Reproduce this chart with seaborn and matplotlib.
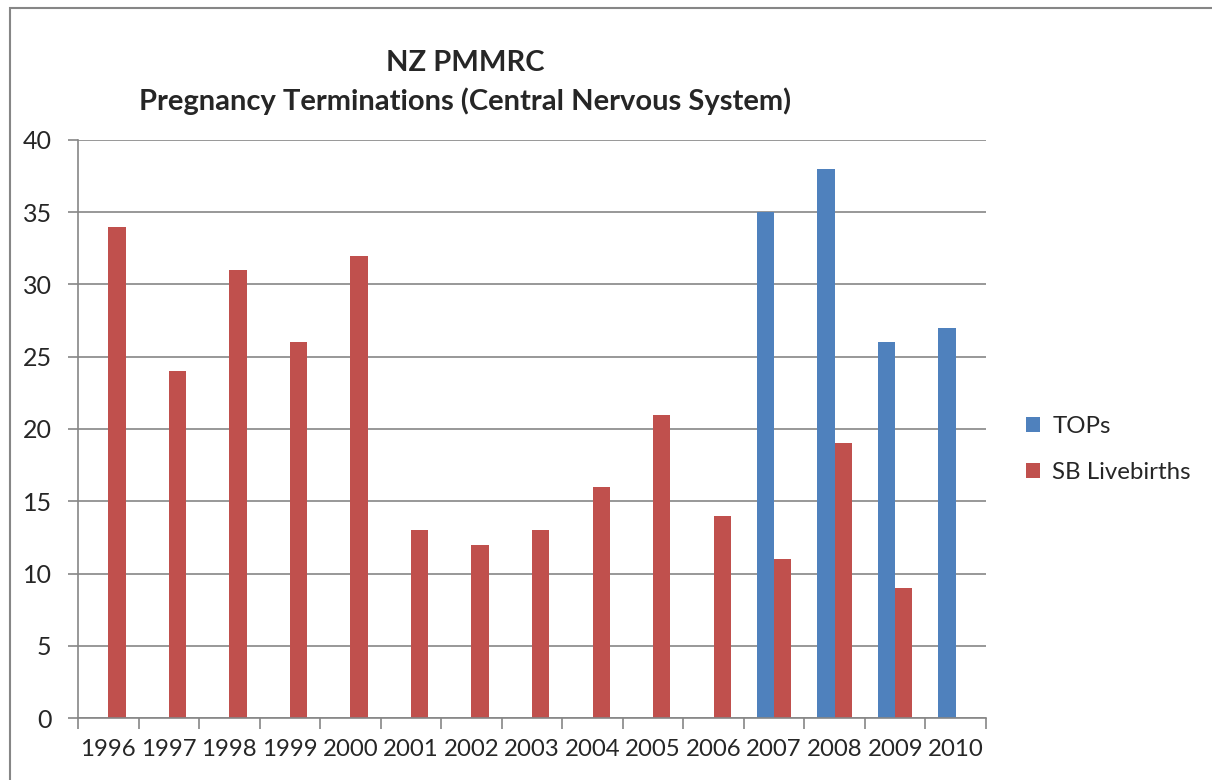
import pandas as pd
import matplotlib
matplotlib.use('Agg')
import matplotlib.pyplot as plt
import seaborn as sns
from matplotlib.patches import Rectangle
from matplotlib.ticker import FixedLocator

# --- dados ---
anos = ['1996', '1997', '1998', '1999', '2000', '2001', '2002', '2003',
        '2004', '2005', '2006', '2007', '2008', '2009', '2010']
tops = [None, None, None, None, None, None, None, None,
        None, None, None, 35, 38, 26, 27]
sb_livebirths = [34, 24, 31, 26, 32, 13, 12, 13, 16, 21, 14, 11, 19, 9, None]
series = ['TOPs', 'SB Livebirths']
cores = ['#4F81BD', '#C0504D']

df = pd.DataFrame({
    'Ano': anos * 2,
    'Valor': tops + sb_livebirths,
    'Serie': [series[0]] * len(anos) + [series[1]] * len(anos),
})
df['Valor'] = pd.to_numeric(df['Valor'])

sns.set_style('white')
plt.rcParams['font.family'] = ['Lato', 'DejaVu Sans']

fig = plt.figure(figsize=(12.12, 7.8), dpi=100)
ax = fig.add_axes([78 / 1212, 1 - 718 / 780, (986 - 78) / 1212, (718 - 140) / 780])

sns.barplot(data=df, x='Ano', y='Valor', hue='Serie', hue_order=series,
            palette=cores, width=0.57, gap=0, saturation=1, ax=ax,
            order=anos, errorbar=None, linewidth=0)

cinza = '#868686'
ax.set_ylim(0, 40)
ax.set_xlim(-0.5, len(anos) - 0.5)
ax.set_yticks(range(0, 41, 5))
ax.yaxis.grid(True, color=cinza, linewidth=1.2)
ax.set_axisbelow(True)
for lado in ['top', 'right']:
    ax.spines[lado].set_visible(False)
for lado in ['left', 'bottom']:
    ax.spines[lado].set_color(cinza)
    ax.spines[lado].set_linewidth(1.2)

ax.tick_params(axis='y', left=True, length=7, width=1.2, color=cinza, pad=12, labelsize=18)
ax.tick_params(axis='x', which='major', length=0, pad=15, labelsize=17.3)
ax.xaxis.set_minor_locator(FixedLocator([i - 0.5 for i in range(len(anos) + 1)]))
ax.tick_params(axis='x', which='minor', bottom=True, length=8, width=1.2, color=cinza)
ax.set_xlabel('')
ax.set_ylabel('')

leg = ax.legend(loc='center left', bbox_to_anchor=(1.02, 0.465), frameon=False,
                fontsize=17.3, handlelength=0.6, handleheight=0.6,
                handletextpad=0.5, labelspacing=1.05)

fig.text(465 / 1212, 1 - 82.5 / 780, 'NZ PMMRC\nPregnancy Terminations (Central Nervous System)',
         ha='center', va='center', fontsize=21, fontweight='bold', linespacing=1.5)

# moldura da área do gráfico
fig.patches.append(Rectangle((9.5 / 1212, -0.1), 1.2, 1 - 8.5 / 780 + 0.1,
                             transform=fig.transFigure, fill=False,
                             edgecolor=cinza, linewidth=1.5, figure=fig))

fig.savefig('out.png', dpi=100)
